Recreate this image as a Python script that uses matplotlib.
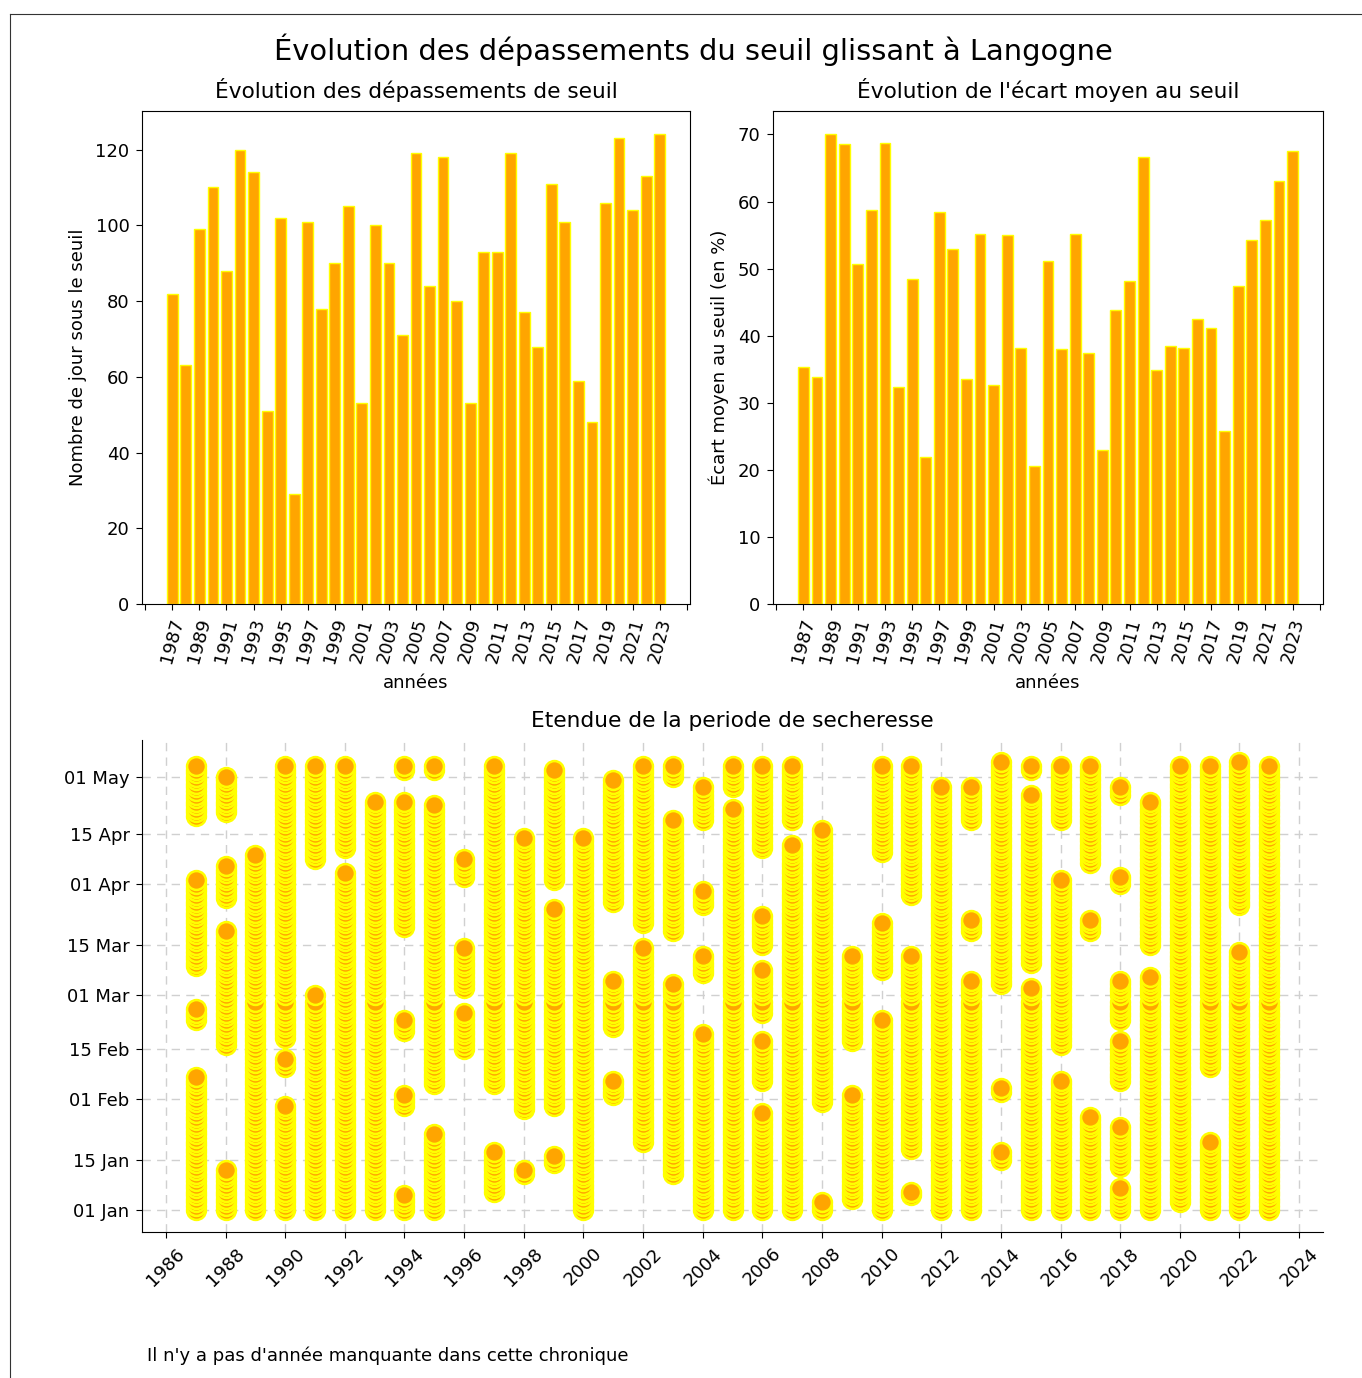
import pandas as pd
import numpy as np
import matplotlib
matplotlib.use("Agg")
import matplotlib.pyplot as plt
import matplotlib.dates as mdates
from matplotlib.lines import Line2D
from matplotlib.ticker import MultipleLocator

years = list(range(1987, 2024))

# nombre de jours sous le seuil glissant, par annee
jours_sous_seuil = [82, 63, 99, 110, 88, 120, 114, 51, 102, 29,
                    101, 78, 90, 105, 53, 100, 90, 71, 119, 84,
                    118, 80, 53, 93, 93, 119, 77, 68, 111, 101,
                    59, 48, 106, 123, 104, 113, 124]

# ecart moyen au seuil (en %)
ecart_moyen = [35.3, 33.9, 70.0, 68.6, 50.7, 58.8, 68.8, 32.4, 48.5, 21.9,
               58.4, 53.0, 33.5, 55.2, 32.7, 55.0, 38.2, 20.5, 51.1, 38.0,
               55.2, 37.4, 23.0, 43.9, 48.1, 66.6, 34.9, 38.4, 38.2, 42.5,
               41.1, 25.8, 47.4, 54.2, 57.3, 63.1, 67.6]

# periodes sous le seuil (debut, fin) pour chaque annee
periodes = {
    1987: [("01-01", "02-07"), ("02-23", "02-26"), ("03-09", "04-02"), ("04-20", "05-04")],
    1988: [("01-01", "01-12"), ("02-16", "03-19"), ("03-28", "04-06"), ("04-21", "05-01")],
    1989: [("01-01", "04-09")],
    1990: [("01-01", "01-30"), ("02-10", "02-12"), ("02-18", "05-04")],
    1991: [("01-01", "03-01"), ("04-08", "05-04")],
    1992: [("01-01", "04-04"), ("04-11", "05-04")],
    1993: [("01-01", "04-24")],
    1994: [("01-01", "01-05"), ("01-30", "02-02"), ("02-20", "02-23"), ("03-20", "04-24"), ("05-03", "05-04")],
    1995: [("01-01", "01-22"), ("02-05", "04-23"), ("05-03", "05-04")],
    1996: [("02-15", "02-25"), ("03-03", "03-14"), ("04-03", "04-08")],
    1997: [("01-06", "01-17"), ("02-05", "05-04")],
    1998: [("01-11", "01-12"), ("01-29", "04-14")],
    1999: [("01-14", "01-16"), ("01-30", "03-25"), ("04-02", "05-03")],
    2000: [("01-01", "04-14")],
    2001: [("02-02", "02-06"), ("02-21", "03-05"), ("03-27", "04-30")],
    2002: [("01-20", "03-14"), ("03-21", "05-04")],
    2003: [("01-11", "03-04"), ("03-19", "04-19"), ("05-01", "05-04")],
    2004: [("01-01", "02-19"), ("03-07", "03-12"), ("03-26", "03-30"), ("04-19", "04-28")],
    2005: [("01-01", "04-22"), ("04-28", "05-04")],
    2006: [("01-01", "01-28"), ("02-06", "02-17"), ("02-25", "03-08"), ("03-15", "03-23"), ("04-11", "05-04")],
    2007: [("01-01", "04-12"), ("04-19", "05-04")],
    2008: [("01-01", "01-03"), ("01-31", "04-16")],
    2009: [("01-04", "02-02"), ("02-17", "03-12")],
    2010: [("01-01", "02-23"), ("03-08", "03-21"), ("04-10", "05-04")],
    2011: [("01-05", "01-06"), ("01-18", "03-12"), ("03-29", "05-04")],
    2012: [("01-01", "04-28")],
    2013: [("01-01", "03-05"), ("03-19", "03-22"), ("04-19", "04-28")],
    2014: [("01-15", "01-17"), ("02-03", "02-04"), ("03-04", "05-05")],
    2015: [("01-01", "03-03"), ("03-10", "04-26"), ("05-03", "05-04")],
    2016: [("01-01", "02-06"), ("02-16", "04-02"), ("04-19", "05-04")],
    2017: [("01-01", "01-27"), ("03-19", "03-22"), ("04-07", "05-04")],
    2018: [("01-01", "01-07"), ("01-13", "01-24"), ("02-06", "02-17"), ("02-23", "03-05"),
           ("04-01", "04-03"), ("04-26", "04-28")],
    2019: [("01-01", "03-06"), ("03-15", "04-24")],
    2020: [("01-03", "05-04")],
    2021: [("01-01", "01-20"), ("02-10", "05-04")],
    2022: [("01-01", "03-13"), ("03-26", "05-05")],
    2023: [("01-01", "05-04")],
}

note = "Il n'y a pas d'année manquante dans cette chronique"

# chaque jour sous le seuil : annee en x, jour de l'annee (ramene en 2000) en y
scatter_x = []
scatter_y = []
for year, segs in periodes.items():
    for debut, fin in segs:
        for d in pd.date_range(f"{year}-{debut}", f"{year}-{fin}"):
            scatter_x.append(year)
            scatter_y.append(pd.Timestamp(2000, d.month, d.day))

FS = 13
W, H = 1362, 1378
fig = plt.figure(figsize=(W / 100, H / 100), dpi=100)

ax1 = fig.add_axes([142 / W, 1 - 604 / H, 548 / W, 493 / H])
ax2 = fig.add_axes([773 / W, 1 - 604 / H, 550 / W, 493 / H])
ax3 = fig.add_axes([142 / W, 1 - 1232 / H, 1181 / W, 492 / H])

fig.suptitle("Évolution des dépassements du seuil glissant à Langogne",
             fontsize=20.8, x=693 / W, y=1 - 50 / H, va="center")

ticks = list(range(1985, 2026, 2))
tick_labels = [str(t) if years[0] <= t <= years[-1] else "" for t in ticks]

for ax, vals, ylab, title in [
        (ax1, jours_sous_seuil, "Nombre de jour sous le seuil", "Évolution des dépassements de seuil"),
        (ax2, ecart_moyen, "Écart moyen au seuil (en %)", "Évolution de l'écart moyen au seuil")]:
    ax.bar(years, vals, width=0.8, color="orange", edgecolor="yellow", linewidth=1)
    ax.set_xticks(ticks, tick_labels, rotation=75, fontsize=FS)
    ax.tick_params(length=4.5, pad=4.5)
    ax.tick_params(axis="y", labelsize=FS)
    ax.set_xlabel("années", fontsize=FS, labelpad=6)
    ax.set_ylabel(ylab, fontsize=FS, labelpad=6)
    ax.set_title(title, fontsize=15.6, pad=9)

ax3.scatter(scatter_x, scatter_y, s=185, c="orange", edgecolors="yellow", linewidths=1.8, zorder=3)
ax3.xaxis.set_major_locator(MultipleLocator(2))
ax3.yaxis.set_major_locator(mdates.DayLocator(bymonthday=[1, 15]))
ax3.yaxis.set_major_formatter(mdates.DateFormatter("%d %b"))
ax3.tick_params(length=4.5, pad=4.5)
ax3.tick_params(axis="x", labelrotation=45, labelsize=FS)
ax3.tick_params(axis="y", labelsize=FS)
ax3.grid(True, linestyle=(0, (6, 4.5)), color="#d0d0d0", linewidth=1)
ax3.spines["top"].set_visible(False)
ax3.spines["right"].set_visible(False)
ax3.set_title("Etendue de la periode de secheresse", fontsize=15.6, pad=9)

fig.text(147 / W, 1 - 1356 / H, note, fontsize=FS, va="center")

# cadre de la figure (haut et gauche)
fig.add_artist(Line2D([10 / W, 1], [1 - 14 / H, 1 - 14 / H], transform=fig.transFigure, color="#333333", lw=0.8))
fig.add_artist(Line2D([10 / W, 10 / W], [0, 1 - 14 / H], transform=fig.transFigure, color="#333333", lw=0.8))

fig.savefig("out.png", dpi=100)
